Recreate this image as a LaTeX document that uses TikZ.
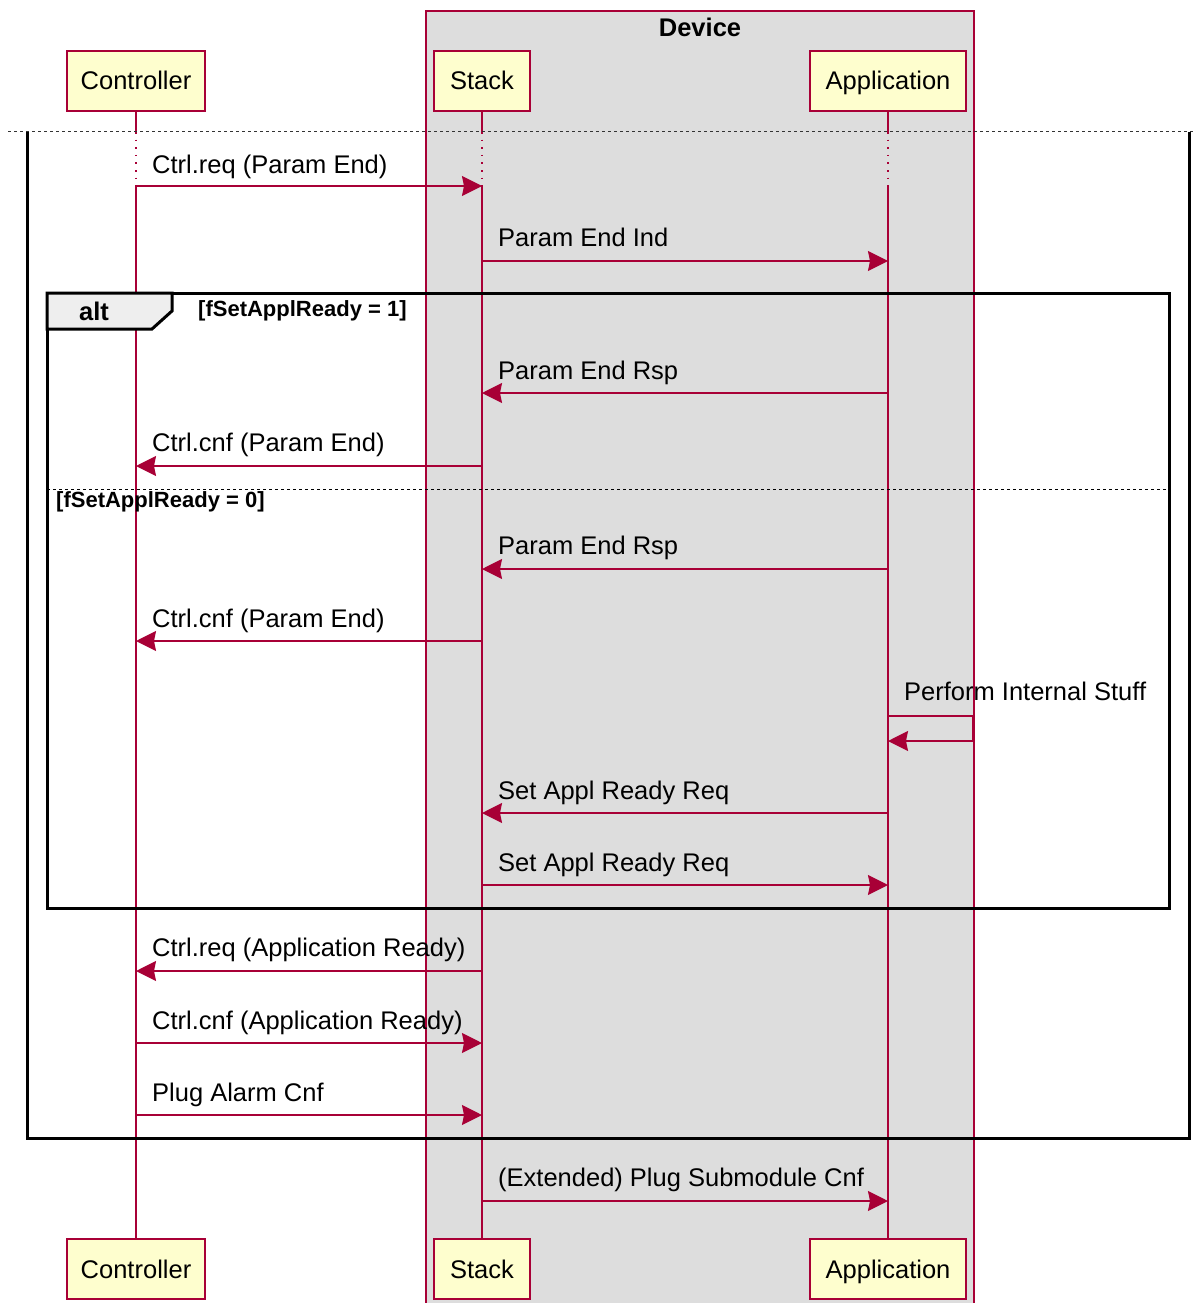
\documentclass[tikz,border=0pt]{standalone}
\usepackage{fontspec}
\setmainfont{Liberation Sans}
\usetikzlibrary{arrows.meta}
\definecolor{pred}{HTML}{A80036}
\definecolor{pfill}{HTML}{FEFECE}
\definecolor{boxgrey}{HTML}{DDDDDD}
\definecolor{tabgrey}{HTML}{EEEEEE}
\begin{document}
\begin{tikzpicture}[x=1pt,y=-1pt,
  every node/.style={font=\fontsize{25.5}{30}\selectfont, inner sep=0pt},
  part/.style={draw=pred, line width=1.6pt, fill=pfill, minimum height=60pt, anchor=center, text height=19pt, text depth=1pt},
  life/.style={draw=pred, line width=1.6pt},
  lifedot/.style={draw=pred, line width=1.6pt, dash pattern=on 1.6pt off 6pt},
  msg/.style={draw=pred, line width=1.6pt, -{Stealth[length=20pt,width=20pt,inset=2pt]}},
  lbl/.style={anchor=base west, text=black},
  frm/.style={draw=black, line width=3pt},
  guard/.style={font=\bfseries\fontsize{22}{26}\selectfont, anchor=west},
]
\useasboundingbox (0,0) rectangle (1195,1303);
% Device box
\fill[boxgrey] (426,11) rectangle (974,1303);
\draw[pred, line width=1.6pt] (426,1303) -- (426,11) -- (974,11) -- (974,1303);
\node[font=\bfseries\fontsize{25.5}{30}\selectfont] (dev) at (700,27) {Device};
% participants
\node[part, minimum width=138pt] (ctrlT) at (136,81) {Controller};
\node[part, minimum width=96pt] (stackT) at (482,81) {Stack};
\node[part, minimum width=156pt] (appT) at (888,81) {Application};
\node[part, minimum width=138pt] (ctrlB) at (136,1269) {Controller};
\node[part, minimum width=96pt] (stackB) at (482,1269) {Stack};
\node[part, minimum width=156pt] (appB) at (888,1269) {Application};
% rows
\coordinate (d0) at (0,132);
\coordinate (d1) at (0,186);
% lifelines
\foreach \p in {ctrl,stack,app}{
  \draw[life] (\p T.south) -- (\p T |- d0);
  \draw[lifedot] (\p T |- d0) -- (\p T |- d1);
  \draw[life] (\p T |- d1) -- (\p B.north);
}
% outer frame
\draw[black!80, line width=1pt, dash pattern=on 3pt off 3pt] (8,132) -- (1195,132);
\draw[frm] (27,132) -- (27,1138) -- (1189,1138) -- (1189,132);
% alt frame
\draw[frm] (47,293) rectangle (1169,908);
\draw[frm, fill=tabgrey] (47,293) -- (172,293) -- (172,311) -- (152,329) -- (47,329) -- cycle;
\node[font=\bfseries\fontsize{25.5}{30}\selectfont] (alt) at (94,311) {alt};
\node[guard] (g1) at (198,311) {[fSetApplReady = 1]};
\draw[black, line width=1pt, dash pattern=on 3pt off 3pt] (47,489) -- (1169,489);
\node[guard] (g2) at (56,502) {[fSetApplReady = 0]};
% message rows
\coordinate (m1) at (0,186);
\coordinate (m2) at (0,261);
\coordinate (m3) at (0,393);
\coordinate (m4) at (0,466);
\coordinate (m5) at (0,569);
\coordinate (m6) at (0,641);
\coordinate (s1) at (0,716);
\coordinate (s2) at (0,741);
\coordinate (m7) at (0,813);
\coordinate (m8) at (0,885);
\coordinate (m9) at (0,971);
\coordinate (m10) at (0,1043);
\coordinate (m11) at (0,1115);
\coordinate (m12) at (0,1201);
% messages
\draw[msg] (ctrlT |- m1) -- (stackT |- m1);
\node[lbl] at (152,173) {Ctrl.req (Param End)};
\draw[msg] (stackT |- m2) -- (appT |- m2);
\node[lbl] at (498,246) {Param End Ind};
\draw[msg] (appT |- m3) -- (stackT |- m3);
\node[lbl] at (498,379) {Param End Rsp};
\draw[msg] (stackT |- m4) -- (ctrlT |- m4);
\node[lbl] at (152,451) {Ctrl.cnf (Param End)};
\draw[msg] (appT |- m5) -- (stackT |- m5);
\node[lbl] at (498,554) {Param End Rsp};
\draw[msg] (stackT |- m6) -- (ctrlT |- m6);
\node[lbl] at (152,627) {Ctrl.cnf (Param End)};
\draw[msg] (appT |- s1) -- ++(85,0) -- ++(0,25) -- (appT |- s2);
\node[lbl] at (904,700) {Perform Internal Stuff};
\draw[msg] (appT |- m7) -- (stackT |- m7);
\node[lbl] at (498,799) {Set Appl Ready Req};
\draw[msg] (stackT |- m8) -- (appT |- m8);
\node[lbl] at (498,871) {Set Appl Ready Req};
\draw[msg] (stackT |- m9) -- (ctrlT |- m9);
\node[lbl] at (152,956) {Ctrl.req (Application Ready)};
\draw[msg] (ctrlT |- m10) -- (stackT |- m10);
\node[lbl] at (152,1029) {Ctrl.cnf (Application Ready)};
\draw[msg] (ctrlT |- m11) -- (stackT |- m11);
\node[lbl] at (152,1101) {Plug Alarm Cnf};
\draw[msg] (stackT |- m12) -- (appT |- m12);
\node[lbl] at (498,1186) {(Extended) Plug Submodule Cnf};
\end{tikzpicture}
\end{document}
